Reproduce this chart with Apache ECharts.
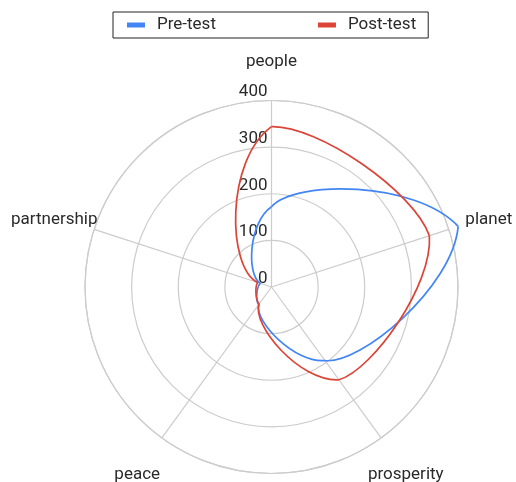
<!DOCTYPE html>
<html><head><meta charset="utf-8">
<script src="https://cdn.jsdelivr.net/npm/echarts@6/dist/echarts.min.js"></script>
<style>html,body{margin:0;padding:0;background:#fff}#c{width:516px;height:482px}</style>
</head><body><div id="c"></div>
<script>
const categories = ['people', 'planet', 'prosperity', 'peace', 'partnership'];
const preTest = [172, 421, 195, 47, 25];
const postTest = [344, 356, 246, 45, 31];
const radiusTicks = [0, 100, 200, 300, 400];

const FONT = 'Roboto';
const TEXT_COLOR = '#2a2a2a';
const GRID_COLOR = '#cccccc';
const LABEL_R = 490; // radius (data units) where category labels are centred
const LABEL_DY = 3;  // small downward nudge of category labels (px)
const HANDLE_K = 0.69; // curve tension of each segment

const chart = echarts.init(document.getElementById('c'), null, {renderer: 'canvas'});

function curveSeries(name, values, color) {
  return {
    type: 'custom', name: name, coordinateSystem: 'polar', silent: true,
    itemStyle: {color: color},
    data: values.map((v, i) => [v, i]),
    renderItem: function (params, api) {
      const i = params.dataIndex;
      const n = values.length;
      const v0 = values[i], v1 = values[(i + 1) % n];
      const at = t => api.coord([v0 + (v1 - v0) * t, i + t]);
      const eps = 0.001;
      const p0 = at(0), p3 = at(1);
      const a = at(eps), b = at(1 - eps);
      const d0 = [(a[0] - p0[0]) / eps, (a[1] - p0[1]) / eps];
      const d1 = [(p3[0] - b[0]) / eps, (p3[1] - b[1]) / eps];
      const h = HANDLE_K / 3;
      return {
        type: 'bezierCurve',
        shape: {
          x1: p0[0], y1: p0[1], x2: p3[0], y2: p3[1],
          cpx1: p0[0] + h * d0[0], cpy1: p0[1] + h * d0[1],
          cpx2: p3[0] - h * d1[0], cpy2: p3[1] - h * d1[1]
        },
        style: {stroke: color, lineWidth: 1.7, fill: null}
      };
    }
  };
}

chart.setOption({
  animation: false,
  backgroundColor: '#fff',
  legend: {
    data: ['Pre-test', 'Post-test'],
    left: 113, top: 12,
    padding: [3, 12, 3, 14],
    borderColor: '#222', borderWidth: 1,
    icon: 'rect', itemWidth: 18, itemHeight: 5, itemGap: 102,
    textStyle: {fontFamily: FONT, fontSize: 17, color: TEXT_COLOR, padding: [0, 0, 0, 7], lineHeight: 20}
  },
  polar: {center: [271.5, 287], radius: 186.5},
  angleAxis: {
    type: 'value', min: 0, max: categories.length, interval: 1,
    startAngle: 90, clockwise: true,
    axisLine: {show: true, lineStyle: {color: GRID_COLOR, width: 1.2}},
    axisTick: {show: false},
    axisLabel: {show: false},
    splitLine: {show: true, lineStyle: {color: GRID_COLOR, width: 1.2}}
  },
  radiusAxis: {
    type: 'value', min: radiusTicks[0], max: radiusTicks[radiusTicks.length - 1], interval: 100,
    axisLine: {show: false}, axisTick: {show: false},
    splitLine: {show: true, lineStyle: {color: GRID_COLOR, width: 1.2}},
    axisLabel: {show: true, fontFamily: FONT, fontSize: 17, color: TEXT_COLOR, align: 'right', verticalAlign: 'bottom', margin: 4}
  },
  series: [
    curveSeries('Pre-test', preTest, '#4285F4'),
    curveSeries('Post-test', postTest, '#DB4437'),
    {
      type: 'custom', coordinateSystem: 'polar', silent: true,
      data: categories.map((c, i) => [LABEL_R, i]),
      renderItem: function (params, api) {
        const p = api.coord([LABEL_R, params.dataIndex]);
        return {type: 'text', x: p[0], y: p[1] + LABEL_DY, style: {text: categories[params.dataIndex], fill: TEXT_COLOR, font: '17px ' + FONT, align: 'center', verticalAlign: 'middle'}};
      }
    }
  ]
});
</script>
</body></html>
